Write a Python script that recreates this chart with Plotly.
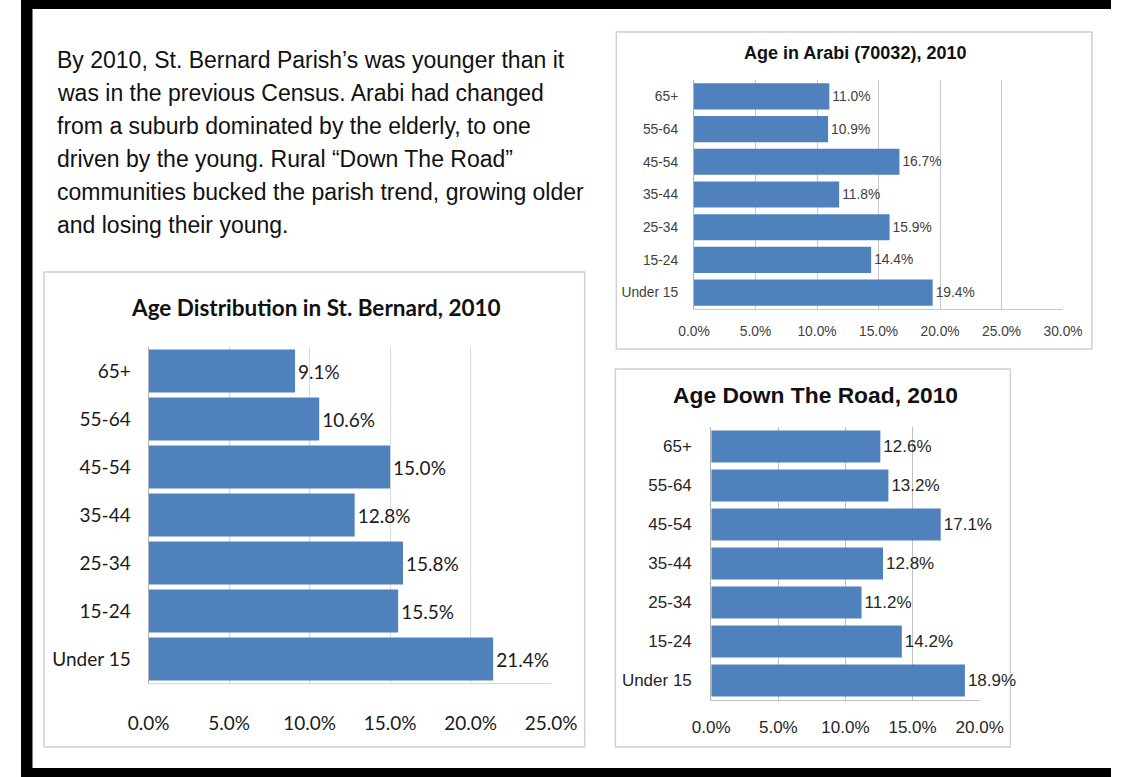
import plotly.graph_objects as go

W, H = 1137, 777

# ---------------- data ----------------
categories = ["65+", "55-64", "45-54", "35-44", "25-34", "15-24", "Under 15"]
st_bernard = [9.1, 10.6, 15.0, 12.8, 15.8, 15.5, 21.4]
arabi = [11.0, 10.9, 16.7, 11.8, 15.9, 14.4, 19.4]
down_the_road = [12.6, 13.2, 17.1, 12.8, 11.2, 14.2, 18.9]

ticks_st_bernard = [0, 5, 10, 15, 20, 25]
ticks_arabi = [0, 5, 10, 15, 20, 25, 30]
ticks_down_the_road = [0, 5, 10, 15, 20]

title_st_bernard = "Age Distribution in St. Bernard, 2010"
title_arabi = "Age in Arabi (70032), 2010"
title_down_the_road = "Age Down The Road, 2010"

intro_lines = [
    "By 2010, St. Bernard Parish\u2019s was younger than it",
    "was in the previous Census. Arabi had changed",
    "from a suburb dominated by the elderly, to one",
    "driven by the young. Rural \u201cDown The Road\u201d",
    "communities bucked the parish trend, growing older",
    "and losing their young.",
]

# ---------------- styles ----------------
BLUE = "#4F81BD"
ARIAL = "Liberation Sans, Arial, sans-serif"
CALIBRI = "Lato, Carlito, Calibri, sans-serif"
PANEL_LINE = "#d0d0d0"


def px(x):
    return x / W


def py(y):
    return 1 - y / H


fig = go.Figure()

charts = [
    dict(vals=st_bernard, ticks=ticks_st_bernard, ax="x", ay="y", font=CALIBRI, size=19,
         color="#1a1a1a", width=0.9, xdom=(133, 553), ydom=(683, 347), grid="#d9d9d9",
         xstand=23, ystand=13),
    dict(vals=arabi, ticks=ticks_arabi, ax="x2", ay="y2", font=ARIAL, size=13.8,
         color="#404040", width=0.8, xdom=(702, 1087), ydom=(309, 80), grid="#c8c8c8",
         xstand=9, ystand=12),
    dict(vals=down_the_road, ticks=ticks_down_the_road, ax="x3", ay="y3", font=ARIAL, size=17,
         color="#262626", width=0.82, xdom=(720, 1000), ydom=(700, 427), grid="#c0c0c0",
         xstand=12, ystand=15),
]

layout_axes = {}
for i, c in enumerate(charts):
    fig.add_trace(go.Bar(
        y=categories, x=c["vals"], orientation="h",
        xaxis=c["ax"], yaxis=c["ay"],
        marker=dict(color=BLUE, line=dict(width=0)),
        width=c["width"],
        texttemplate="%{x:.1f}%", textposition="outside",
        outsidetextfont=dict(family=c["font"], size=c["size"], color=c["color"]),
        cliponaxis=False, constraintext="none",
        showlegend=False, hoverinfo="skip",
    ))
    suffix = "" if i == 0 else str(i + 1)
    layout_axes["xaxis" + suffix] = dict(
        domain=[px(c["xdom"][0]), px(c["xdom"][1])],
        range=[0, c["ticks"][-1]], tickvals=c["ticks"],
        ticktext=[f"{t:.1f}%" for t in c["ticks"]],
        showgrid=True, gridcolor=c["grid"], gridwidth=1,
        zeroline=False, showline=True, linecolor=c["grid"], linewidth=1,
        ticks="", ticklabelstandoff=c["xstand"],
        tickfont=dict(family=c["font"], size=c["size"], color=c["color"]),
        anchor=c["ay"], fixedrange=True,
    )
    layout_axes["yaxis" + suffix] = dict(
        domain=[py(c["ydom"][0]), py(c["ydom"][1])],
        type="category", categoryorder="array", categoryarray=categories,
        range=[len(categories) - 0.5, -0.5],
        showgrid=False, zeroline=False, showline=True, linecolor="#b0b0b0", linewidth=1,
        ticks="", ticklabelstandoff=c["ystand"],
        tickfont=dict(family=c["font"], size=c["size"], color=c["color"]),
        anchor=c["ax"], fixedrange=True,
    )

shapes = []
# chart panels
for (x0, y0, x1, y1) in [(24, 272, 588, 747), (621, 32, 1117, 349), (620, 369, 1032, 747)]:
    shapes.append(dict(type="rect", xref="paper", yref="paper",
                       x0=px(x0), x1=px(x1), y0=py(y1), y1=py(y0),
                       line=dict(color=PANEL_LINE, width=1.5), fillcolor="white", layer="below"))
# thick black frame
for (x0, y0, x1, y1) in [(0, 0, W, 9), (0, 0, 12, H), (0, 768, W, H)]:
    shapes.append(dict(type="rect", xref="paper", yref="paper",
                       x0=px(x0), x1=px(x1), y0=py(y1), y1=py(y0),
                       line=dict(width=0), fillcolor="black", layer="above"))

annotations = []
for k, line in enumerate(intro_lines):
    annotations.append(dict(text=line, xref="paper", yref="paper", x=px(35), y=py(60 + 33 * k),
                            xanchor="left", yanchor="middle", showarrow=False,
                            font=dict(family=ARIAL, size=23, color="#111111")))
for text, cx, cy, fam, size in [
    (title_st_bernard, 308, 307, CALIBRI, 22.5),
    (title_arabi, 870, 53, ARIAL, 18),
    (title_down_the_road, 829, 395, ARIAL, 22.8),
]:
    annotations.append(dict(text=f"<b>{text}</b>", xref="paper", yref="paper", x=px(cx), y=py(cy),
                            xanchor="center", yanchor="middle", showarrow=False,
                            font=dict(family=fam, size=size, color="#111111")))

fig.update_layout(
    width=W, height=H, autosize=False,
    margin=dict(l=0, r=0, t=0, b=0),
    paper_bgcolor="white", plot_bgcolor="rgba(0,0,0,0)",
    shapes=shapes, annotations=annotations,
    **layout_axes,
)

fig.write_html(
    "out.html",
    config={"displayModeBar": False, "responsive": False},
    post_script="document.body.style.margin='0';document.body.style.overflow='hidden';",
)
